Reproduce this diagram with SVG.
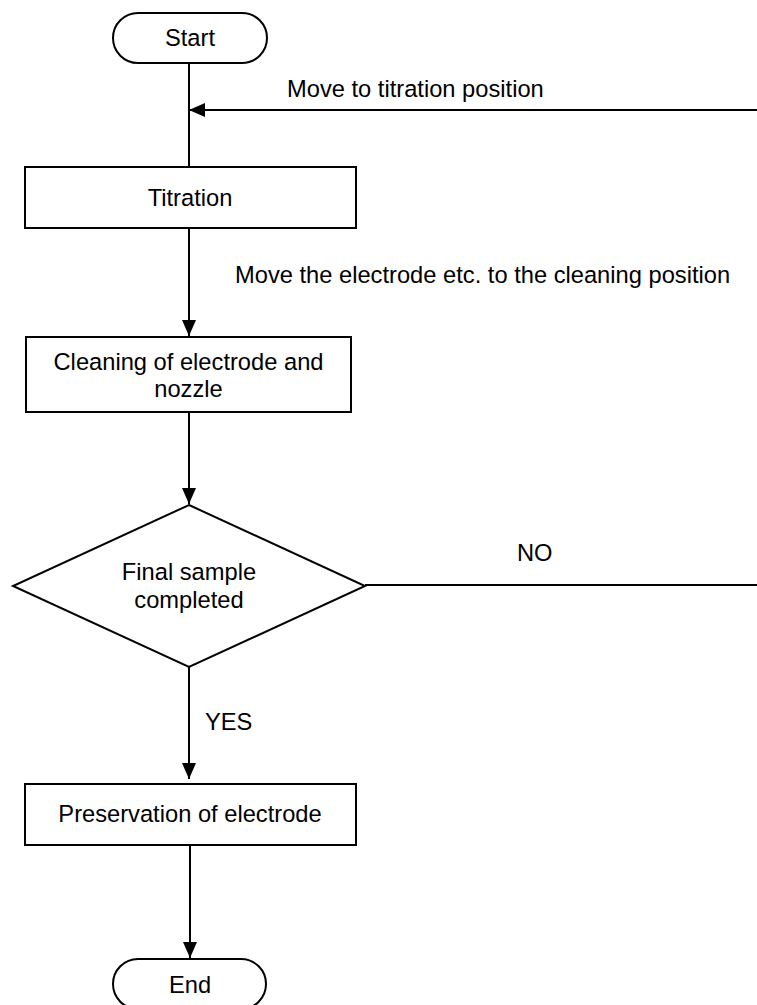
<svg xmlns="http://www.w3.org/2000/svg" width="757" height="1005" viewBox="0 0 757 1005">
<style>
.shape{fill:#fff;stroke:#000;stroke-width:2}
.conn{fill:none;stroke:#000;stroke-width:2}
text{font-family:"Liberation Sans",Arial,sans-serif;font-size:23.7px;fill:#000}
.c{text-anchor:middle}
</style>
<defs>
<marker id="arr" markerUnits="userSpaceOnUse" markerWidth="18" markerHeight="16" refX="16" refY="7" orient="auto" overflow="visible">
<path d="M0,0 L16,7 L0,14 Z" fill="#000"/>
</marker>
</defs>
<rect width="757" height="1005" fill="#fff"/>
<g id="connectors">
<line class="conn" x1="189" y1="63" x2="189" y2="167"/>
<line class="conn" x1="757" y1="110" x2="189" y2="110" marker-end="url(#arr)"/>
<text x="287" y="97">Move to titration position</text>
<line class="conn" x1="189" y1="228" x2="189" y2="336" marker-end="url(#arr)"/>
<text x="235" y="283">Move the electrode etc. to the cleaning position</text>
<line class="conn" x1="189" y1="412" x2="189" y2="504" marker-end="url(#arr)"/>
<line class="conn" x1="365" y1="585" x2="757" y2="585"/>
<text x="517" y="561">NO</text>
<line class="conn" x1="189" y1="667" x2="189" y2="779" marker-end="url(#arr)"/>
<text x="205" y="730">YES</text>
<line class="conn" x1="190" y1="845" x2="190" y2="958" marker-end="url(#arr)"/>
</g>
<g id="start">
<rect class="shape" x="113" y="13" width="154" height="50" rx="25" ry="25"/>
<text class="c" x="190" y="46">Start</text>
</g>
<g id="titration">
<rect class="shape" x="25" y="167" width="331" height="61"/>
<text class="c" x="190" y="206">Titration</text>
</g>
<g id="cleaning">
<rect class="shape" x="26" y="337" width="325" height="75"/>
<text class="c" x="188.5" y="370">Cleaning of electrode and</text>
<text class="c" x="188.5" y="397">nozzle</text>
</g>
<g id="decision">
<polygon class="shape" points="189,505 365,586 189,667 13,586"/>
<text class="c" x="189" y="580">Final sample</text>
<text class="c" x="189" y="608">completed</text>
</g>
<g id="preservation">
<rect class="shape" x="25" y="784" width="331" height="61"/>
<text class="c" x="190" y="822">Preservation of electrode</text>
</g>
<g id="end">
<rect class="shape" x="113" y="959" width="153" height="50" rx="25" ry="25"/>
<text class="c" x="190" y="993">End</text>
</g>
</svg>
